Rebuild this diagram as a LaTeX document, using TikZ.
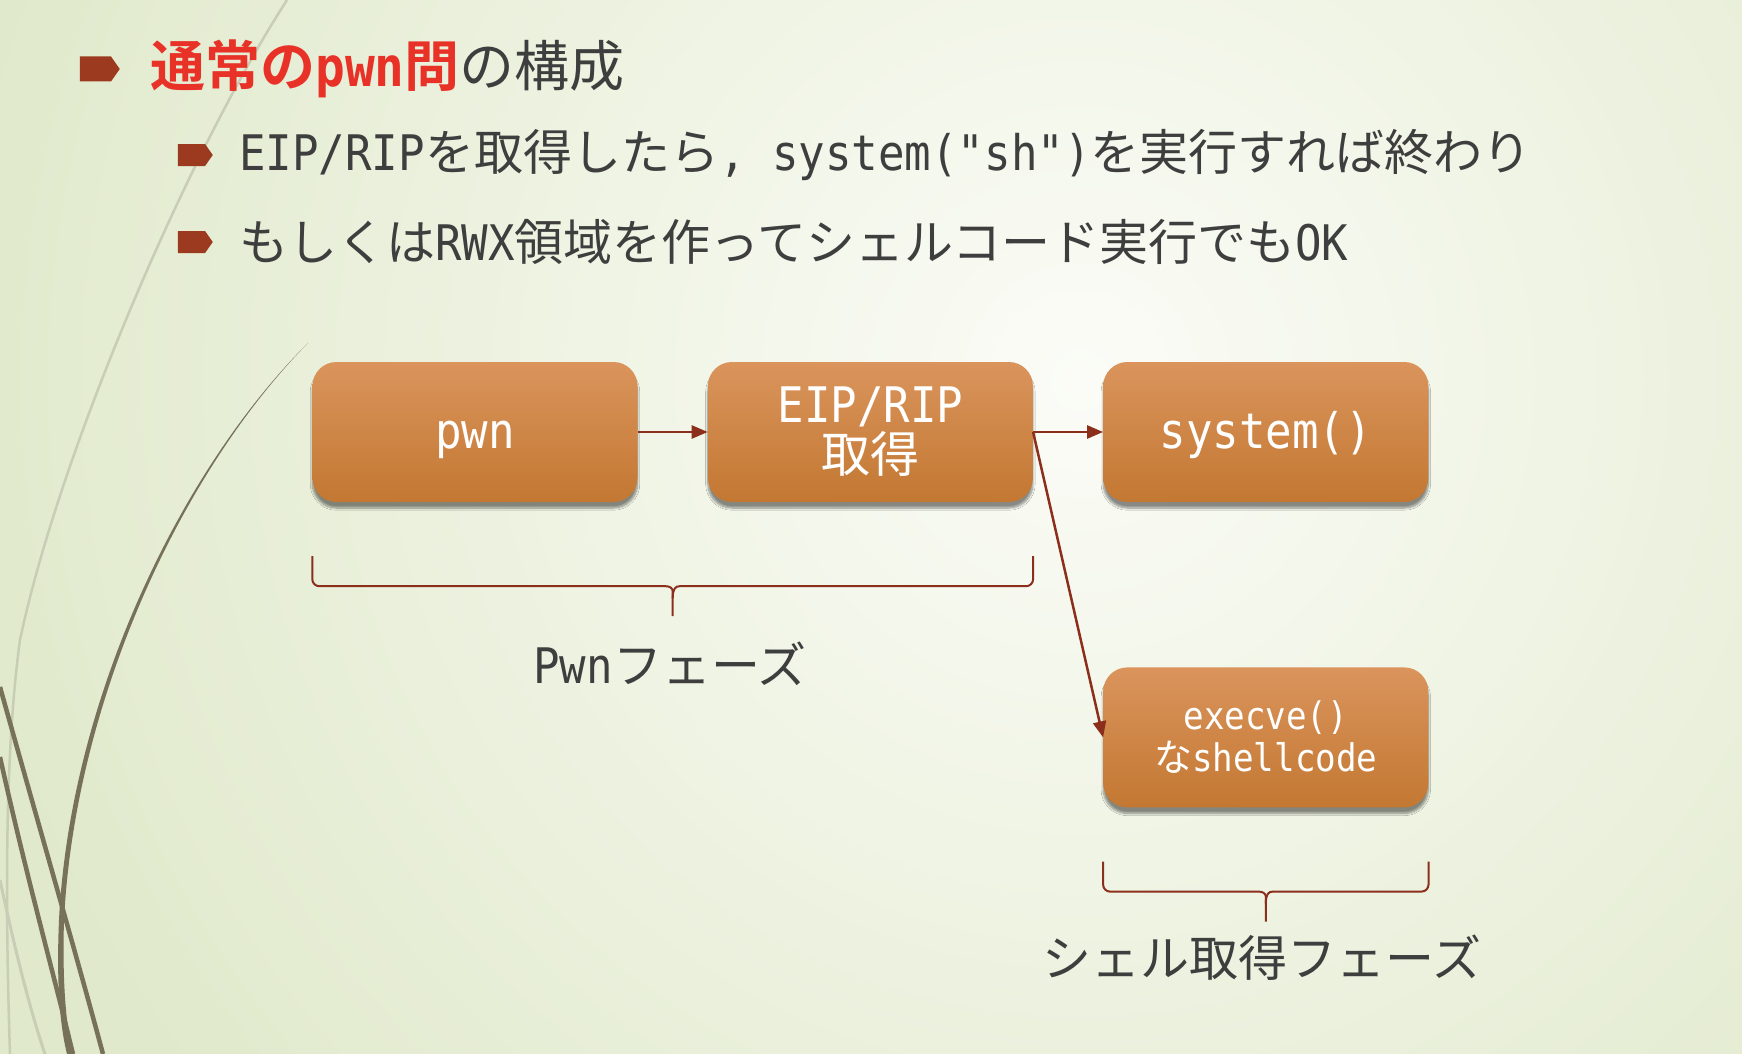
\documentclass[tikz,border=0pt]{standalone}
\usepackage{fontspec}
\setmonofont{DejaVu Sans Mono}[FakeStretch=0.9]
\renewcommand{\familydefault}{\ttdefault}
\newfontfamily\jp{Noto Sans CJK JP}[BoldFont={Noto Sans CJK JP Bold}]
\usetikzlibrary{arrows.meta,positioning,calc,shapes.symbols,shadows.blur}
\definecolor{bgedge}{RGB}{224,233,203}
\definecolor{bgmid}{RGB}{251,252,247}
\definecolor{titlered}{RGB}{232,50,40}
\definecolor{textgray}{RGB}{62,62,62}
\definecolor{bulletc}{RGB}{155,58,30}
\definecolor{boxtop}{RGB}{218,148,92}
\definecolor{boxbot}{RGB}{195,120,50}
\definecolor{linkc}{RGB}{139,46,28}
\definecolor{stemdark}{RGB}{119,113,90}
\definecolor{stemlight}{RGB}{200,205,182}
\tikzset{
  phasebox/.style={rounded corners=24pt, minimum width=325pt, minimum height=140pt,
    inner sep=0pt, top color=boxtop, bottom color=boxbot, text=white, align=center,
    font=\fontsize{49}{50}\selectfont,
    blur shadow={shadow blur steps=8, shadow xshift=0pt, shadow yshift=-6pt, shadow opacity=45}},
  oneline/.style={text height=33pt, text depth=0pt},
  smallbox/.style={phasebox, font=\fontsize{38}{42}\selectfont},
  link/.style={-{Triangle[length=16pt,width=13pt]}, line width=2.5pt, linkc},
  bracel/.style={line width=2pt, linkc},
  bodytext/.style={text=textgray, inner sep=0pt, font=\fontsize{49}{58}\selectfont},
  subbullet/.style={signal, signal to=east, signal pointer angle=110, fill=bulletc,
    draw=none, minimum width=35pt, minimum height=22pt, inner sep=0pt},
  topbullet/.style={subbullet, minimum width=40pt, minimum height=25pt},
}
% brace under the boxes from #1 (left) to #2 (right)
\newcommand{\phasebrace}[2]{%
  \coordinate (bl) at ($(#1.south west)+(0,54)$);
  \coordinate (br) at ($(#2.south east)+(0,54)$);
  \coordinate (bm) at ($(bl)!0.5!(br)+(0,30)$);
  \draw[bracel, rounded corners=7pt] (bl) -- ++(0,30) -- ($(bm)+(-14,0)$)
    .. controls ($(bm)+(-3,0)$) and ($(bm)+(0,2)$) .. ($(bm)+(0,12)$) -- ++(0,18);
  \draw[bracel, rounded corners=7pt] (br) -- ++(0,30) -- ($(bm)+(14,0)$)
    .. controls ($(bm)+(3,0)$) and ($(bm)+(0,2)$) .. ($(bm)+(0,12)$);
}
\begin{document}
\begin{tikzpicture}[x=1pt, y=-1pt]
  \useasboundingbox (0,0) rectangle (1742,1054);
  % background
  \begin{scope}
    \clip (0,0) rectangle (1742,1054);
    \fill[bgedge] (0,0) rectangle (1742,1054);
    \shade[inner color=bgmid, outer color=bgedge] (1080,380) circle (1150pt);
    % stems on the left
    \draw[stemlight, line width=2.5pt] (287,0) .. controls (190,150) and (60,450) .. (20,640)
      .. controls (5,750) and (5,900) .. (10,1054);
    \draw[stemlight, line width=3pt] (0,880) .. controls (15,950) and (30,1010) .. (45,1054);
    \fill[stemdark] (308,343) .. controls (180,470) and (70,700) .. (59,920)
      .. controls (56,990) and (61,1030) .. (67,1054)
      -- (73,1054) .. controls (67,1030) and (62,990) .. (64,920)
      .. controls (75,700) and (182,471) .. (308,343) -- cycle;
    \draw[stemdark, line width=4.5pt] (0,687) .. controls (40,830) and (75,950) .. (103,1054);
    \draw[stemdark, line width=4.5pt] (0,757) .. controls (25,870) and (50,960) .. (73,1054);
  \end{scope}
  % title and bullets
  \node[bodytext, anchor=west, font=\fontsize{55}{60}\selectfont] (title) at (150,69)
    {{\color{titlered}\bfseries\jp 通常の}{\color{titlered}\bfseries pwn}{\color{titlered}\bfseries\jp 問}{\jp の構成}};
  \node[topbullet, left=30pt of title] (tb) {};
  \node[bodytext, anchor=west] (sub1) at (239,155)
    {EIP/RIP{\jp を取得したら}, system("sh"){\jp を実行すれば終わり}};
  \node[subbullet, left=26pt of sub1] (sb1) {};
  \node[bodytext, anchor=west] (sub2) at (239,242)
    {{\jp もしくは}RWX{\jp 領域を作ってシェルコード実行でも}OK};
  \node[subbullet, left=26pt of sub2] (sb2) {};
  % boxes
  \node[phasebox, oneline] (pwn) at (475,432) {pwn};
  \node[phasebox, right=70pt of pwn] (eip) {EIP/RIP\\{\jp 取得}};
  \node[phasebox, oneline, right=70pt of eip] (sys) {system()};
  \node[smallbox, below=165pt of sys] (exec) {execve()\\{\jp な}shellcode};
  % connectors
  \draw[link] (pwn) -- (eip);
  \draw[link] (eip.east) -- (sys.west);
  \draw[link] (eip.east) -- (exec.west);
  % phases
  \phasebrace{pwn}{eip}
  \phasebrace{exec}{exec}
  \node[bodytext] (pwnphase) at (670,664) {Pwn{\jp フェーズ}};
  \node[bodytext] (shellphase) at (1262,958) {{\jp シェル取得フェーズ}};
\end{tikzpicture}
\end{document}
